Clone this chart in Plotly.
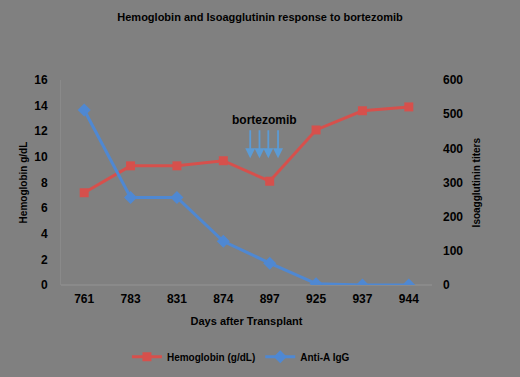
import plotly.graph_objects as go

days = ["761", "783", "831", "874", "897", "925", "937", "944"]
hemoglobin = [7.2, 9.3, 9.3, 9.7, 8.1, 12.1, 13.6, 13.9]
anti_a_igg = [512, 256, 256, 128, 64, 4, 0, 0]

arrow_x = [3.58, 3.78, 3.97, 4.18]   # category-index positions of bortezomib doses
arrow_tail_y = 12.2
arrow_head_y = 9.9

BG = "#808080"
RED = "#D6504C"
BLUE = "#4F88D2"
FONT = "Liberation Sans Narrow, Arial Narrow, Liberation Sans, Arial"

fig = go.Figure()
fig.add_trace(go.Scatter(
    x=days, y=hemoglobin, name="Hemoglobin (g/dL)", mode="lines+markers",
    line=dict(color=RED, width=3),
    marker=dict(symbol="square", size=9, color=RED),
    yaxis="y"))
fig.add_trace(go.Scatter(
    x=days, y=anti_a_igg, name="Anti-A IgG", mode="lines+markers",
    line=dict(color=BLUE, width=3),
    marker=dict(symbol="diamond", size=10, color=BLUE),
    yaxis="y2"))

anns = []
for ax_ in arrow_x:
    anns.append(dict(x=ax_, y=arrow_head_y, ax=ax_, ay=arrow_tail_y,
                     xref="x", yref="y", axref="x", ayref="y",
                     showarrow=True, arrowhead=2, arrowsize=1.1, arrowwidth=1.8,
                     arrowcolor="#5B9BD5", text=""))
anns.append(dict(x=3.88, y=12.9, xref="x", yref="y", text="<b>bortezomib</b>",
                 showarrow=False, font=dict(family=FONT, size=12, color="black")))
# axis titles as rotated annotations, centred on the plot height
anns.append(dict(x=-0.1, y=0.5, xref="paper", yref="paper", text="<b>Hemoglobin g/dL</b>",
                 textangle=-90, showarrow=False, xanchor="center", yanchor="middle",
                 font=dict(family=FONT, size=10, color="black")))
anns.append(dict(x=1.121, y=0.5, xref="paper", yref="paper", text="<b>Isoagglutinin titers</b>",
                 textangle=-90, showarrow=False, xanchor="center", yanchor="middle",
                 font=dict(family=FONT, size=10, color="black")))

fig.update_layout(
    width=520, height=377,
    paper_bgcolor=BG, plot_bgcolor=BG,
    margin=dict(l=61, r=88, t=80, b=92, autoexpand=False),
    title=dict(text="<b>Hemoglobin and Isoagglutinin response to bortezomib</b>",
               x=0.5, xanchor="center", y=0.955, yanchor="middle",
               font=dict(family=FONT, size=11, color="black")),
    font=dict(family=FONT, color="black"),
    xaxis=dict(type="category", range=[-0.5, 7.5], showgrid=False, zeroline=False,
               showline=False, ticks="", ticklabelstandoff=5,
               tickfont=dict(family=FONT, size=12, color="black", weight="bold"),
               title=dict(text="<b>Days after Transplant</b>", standoff=12,
                          font=dict(family=FONT, size=11, color="black"))),
    yaxis=dict(range=[0, 16], dtick=2, showgrid=False, zeroline=False,
               showline=True, linecolor="#8a8a8a", linewidth=1, ticks="",
               ticklabelstandoff=10,
               tickfont=dict(family=FONT, size=12, color="black", weight="bold")),
    yaxis2=dict(range=[0, 600], dtick=100, overlaying="y", side="right",
                showgrid=False, zeroline=True, zerolinecolor="#8a8a8a",
                showline=False, ticks="", ticklabelstandoff=10,
                tickfont=dict(family=FONT, size=12, color="black", weight="bold")),
    legend=dict(orientation="h", x=0.485, xanchor="center", y=-0.35, yanchor="middle",
                font=dict(family=FONT, size=10, color="black", weight="bold"),
                bgcolor="rgba(0,0,0,0)", itemwidth=30),
    showlegend=True,
    annotations=anns,
)

fig.write_html("out.html", config={"displayModeBar": False},
               post_script="document.body.style.margin='0';document.body.style.background='#808080';")
